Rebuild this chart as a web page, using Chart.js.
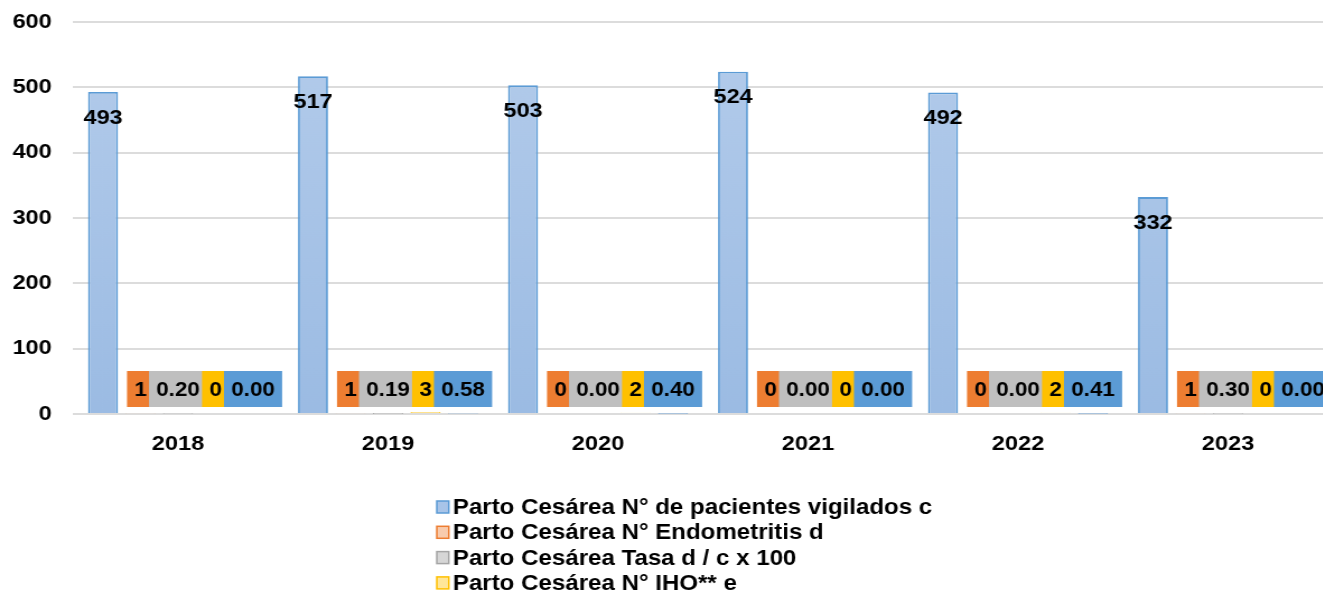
<!DOCTYPE html>
<html><head><meta charset="utf-8">
<script src="https://cdn.jsdelivr.net/npm/chart.js@4.4.0/dist/chart.umd.min.js"></script>
<style>html,body{margin:0;padding:0;background:#fff;overflow:hidden;}
#wrap{position:relative;width:1192px;height:597px;transform:scaleX(1.12);transform-origin:0 0;}
</style></head><body><div id="wrap"><canvas id="c"></canvas></div>
<script>
const categories = ['2018','2019','2020','2021','2022','2023'];
const seriesLabels = [
  'Parto Cesárea N° de pacientes vigilados c',
  'Parto Cesárea N° Endometritis d',
  'Parto Cesárea Tasa d / c x 100',
  'Parto Cesárea N° IHO** e',
  'Parto Cesárea Tasa e / c x 100'
];
const pacientes = [493, 517, 503, 524, 492, 332];
const endometritis = [1, 1, 0, 0, 0, 1];
const tasaEndometritis = [0.20, 0.19, 0.00, 0.00, 0.00, 0.30];
const iho = [0, 3, 2, 0, 2, 0];
const tasaIho = [0.00, 0.58, 0.40, 0.00, 0.41, 0.00];
const yTicks = [0, 100, 200, 300, 400, 500, 600];
const decimals = [0, 0, 2, 0, 2];

const FONT = '"Liberation Sans", Arial, sans-serif';
const borderColors = ['#5b9bd5', '#ed7d31', '#a5a5a5', '#ffc000', '#5b9bd5'];
const fillColors = ['#a8c4e8', '#f8cbad', '#d6d6d6', '#ffe699', '#a8c4e8'];
const boxColors = ['#5b9bd5', '#ed7d31', '#bfbfbf', '#ffc000', '#5b9bd5'];

function blueGrad(ctx) {
  const chart = ctx.chart; const a = chart.chartArea;
  if (!a) return fillColors[0];
  const g = chart.ctx.createLinearGradient(0, a.top, 0, a.bottom);
  g.addColorStop(0, '#b4cceb'); g.addColorStop(1, '#9bbbe3');
  return g;
}

const allData = [pacientes, endometritis, tasaEndometritis, iho, tasaIho];
const datasets = allData.map((d, i) => ({
  label: seriesLabels[i],
  data: d,
  backgroundColor: i === 0 ? blueGrad : fillColors[i],
  borderColor: borderColors[i],
  borderWidth: (c) => (c.raw === 0 ? 0 : (i === 0 ? 1.8 : 1)),
  barPercentage: 0.8,
  categoryPercentage: 0.893
}));

const labelPlugin = {
  id: 'valueLabels',
  afterDatasetsDraw(chart) {
    const ctx = chart.ctx;
    const y0 = chart.scales.y.getPixelForValue(0);
    ctx.save();
    ctx.textAlign = 'center';
    ctx.textBaseline = 'middle';
    chart.data.datasets.forEach((ds, i) => {
      const meta = chart.getDatasetMeta(i);
      meta.data.forEach((bar, j) => {
        const txt = ds.data[j].toFixed(decimals[i]);
        if (i === 0) {
          ctx.font = 'bold 21px ' + FONT;
          ctx.fillStyle = '#000';
          ctx.fillText(txt, bar.x, bar.y + 26);
        } else {
          ctx.font = 'bold 20px ' + FONT;
          const w = ctx.measureText(txt).width + 13;
          const h = 36;
          const cy = y0 - 25;
          ctx.fillStyle = boxColors[i];
          ctx.fillRect(bar.x - w / 2, cy - h / 2, w, h);
          ctx.fillStyle = '#000';
          ctx.fillText(txt, bar.x, cy + 1);
        }
      });
    });
    ctx.restore();
  }
};

const legendPlugin = {
  id: 'columnLegend',
  afterDraw(chart) {
    const ctx = chart.ctx;
    const left = 390, top = 507, step = 25.3, sqW = 10.7, sqH = 12;
    ctx.save();
    ctx.font = 'bold 21.5px ' + FONT;
    ctx.textAlign = 'left';
    ctx.textBaseline = 'middle';
    seriesLabels.forEach((lab, i) => {
      const cy = top + i * step;
      ctx.fillStyle = i === 0 ? '#a8c4e8' : fillColors[i];
      ctx.fillRect(left, cy - sqH / 2, sqW, sqH);
      ctx.strokeStyle = borderColors[i];
      ctx.lineWidth = 1.5;
      ctx.strokeRect(left, cy - sqH / 2, sqW, sqH);
      ctx.fillStyle = '#000';
      ctx.fillText(lab, left + 14.3, cy + 1);
    });
    ctx.restore();
  }
};

new Chart(document.getElementById('c'), {
  type: 'bar',
  data: { labels: categories, datasets },
  plugins: [labelPlugin, legendPlugin],
  options: {
    responsive: true,
    maintainAspectRatio: false,
    animation: false,
    layout: { padding: { left: 0, right: 1.8, top: 22, bottom: 123 } },
    plugins: { legend: { display: false }, tooltip: { enabled: false } },
    scales: {
      x: {
        grid: { display: false },
        border: { display: false },
        ticks: { color: '#000', font: { family: FONT, size: 21, weight: 'bold' }, padding: 10 },
        afterFit: (s) => { s.height = 60; }
      },
      y: {
        min: 0, max: 600,
        afterBuildTicks: (s) => { s.ticks = yTicks.map(v => ({ value: v })); },
        grid: { color: '#dcdcdc', lineWidth: 2, drawTicks: false },
        border: { display: false },
        ticks: { color: '#000', font: { family: FONT, size: 21, weight: 'bold' }, padding: 19 },
        afterFit: (s) => { s.width = 65.2; s.paddingTop = 0; s.paddingBottom = 0; }
      }
    }
  }
});
</script></body></html>
